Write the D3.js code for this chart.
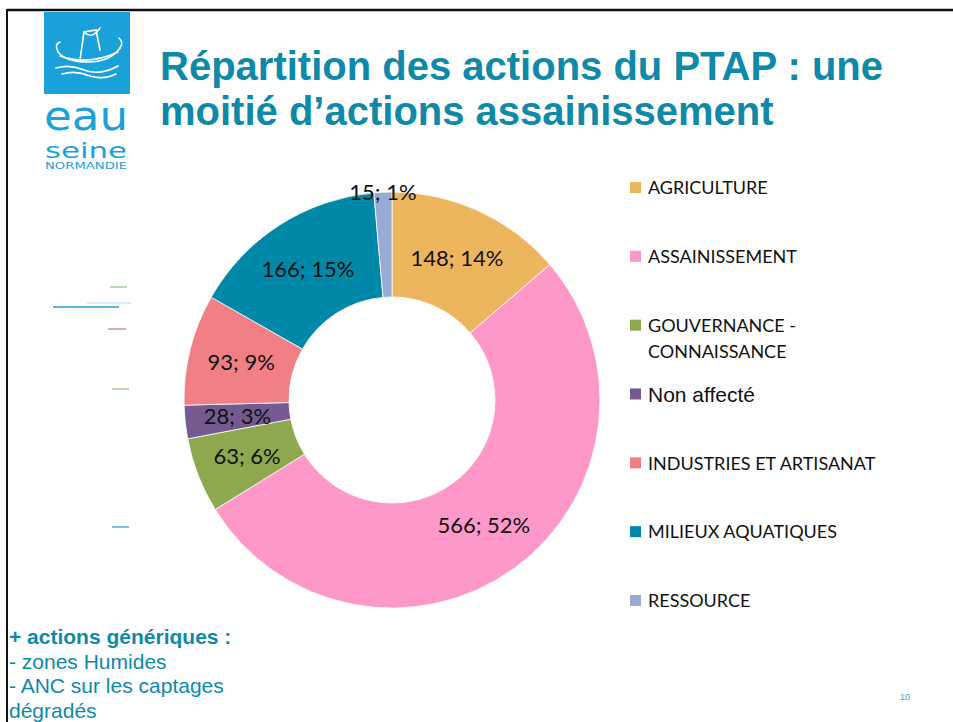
<!DOCTYPE html>
<html>
  <head>
    <meta charset="utf-8">
    <title>Répartition des actions du PTAP</title>
    <style>
      body, html{
        margin: 0;
        width: 953px;
        height: 722px;
        background: #fff;
        overflow: hidden;
      }
      svg{ display: block; }
    </style>
  </head>
  <body>
    <svg id="chart" width="953" height="722"></svg>
    <script src="https://cdnjs.cloudflare.com/ajax/libs/d3/7.8.5/d3.min.js" charset="utf-8"></script>
    <script>
      // data
      var categories = ['AGRICULTURE', 'ASSAINISSEMENT', 'GOUVERNANCE - CONNAISSANCE', 'Non affecté',
        'INDUSTRIES ET ARTISANAT', 'MILIEUX AQUATIQUES', 'RESSOURCE']
      var values = [148, 566, 63, 28, 93, 166, 15]
      var colors = ['#eeb55f', '#fe98c9', '#8ea84f', '#745a91', '#f27f85', '#0088a8', '#97abd3']
      var titleLines = ['Répartition des actions du PTAP : une', 'moitié d’actions assainissement']
      var noteLines = ['+ actions génériques :', '- zones Humides', '- ANC sur les captages', 'dégradés']

      var svg = d3.select('#chart')
      var teal = '#0e8aa8', logoBlue = '#1ba1d9'

      // slide frame
      svg.append('line').attr('x1', 7).attr('x2', 953).attr('y1', 10).attr('y2', 10)
        .attr('stroke', '#111').attr('stroke-width', 2.5)
      svg.append('line').attr('x1', 7).attr('x2', 7).attr('y1', 9).attr('y2', 722)
        .attr('stroke', '#111').attr('stroke-width', 2)

      // logo
      var logo = svg.append('g')
      logo.append('rect').attr('x', 44).attr('y', 12).attr('width', 86).attr('height', 82).attr('fill', logoBlue)
      var boat = logo.append('g').attr('fill', 'none').attr('stroke', '#fff').attr('stroke-width', 1.6)
        .attr('stroke-linecap', 'round')
      boat.append('path').attr('d', 'M58,52 Q66,62 88,62 Q110,62 120,48')
      boat.append('path').attr('d', 'M60,56 Q88,66 118,52')
      boat.append('path').attr('d', 'M80,60 L84,32 L96,30 L100,50')
      boat.append('path').attr('d', 'M84,32 Q92,40 100,28')
      boat.append('path').attr('d', 'M56,68 Q70,64 84,70 Q100,76 118,66')
      boat.append('path').attr('d', 'M62,74 Q76,70 90,76 Q104,80 116,74')
      boat.append('path').attr('d', 'M58,52 q-4,-8 2,-10')
      boat.append('path').attr('d', 'M120,48 q4,-6 -1,-10')
      logo.append('text').attr('x', 86).attr('y', 130).attr('text-anchor', 'middle')
        .attr('font-family', 'DejaVu Sans, sans-serif').attr('font-size', 40).attr('fill', logoBlue)
        .attr('textLength', 84).attr('lengthAdjust', 'spacingAndGlyphs').text('eau')
      logo.append('text').attr('x', 86).attr('y', 158).attr('text-anchor', 'middle')
        .attr('font-family', 'DejaVu Sans, sans-serif').attr('font-size', 22).attr('fill', logoBlue)
        .attr('textLength', 82).attr('lengthAdjust', 'spacingAndGlyphs').text('seine')
      logo.append('text').attr('x', 86).attr('y', 169).attr('text-anchor', 'middle')
        .attr('font-family', 'DejaVu Sans, sans-serif').attr('font-size', 8).attr('fill', logoBlue)
        .attr('textLength', 82).attr('lengthAdjust', 'spacingAndGlyphs').text('NORMANDIE')

      // title
      svg.append('g').selectAll('text').data(titleLines).enter().append('text')
        .attr('x', 160).attr('y', function(d, i){ return 80 + i * 45 })
        .attr('font-family', 'Liberation Sans, Arial, sans-serif').attr('font-weight', 'bold')
        .attr('font-size', 40).attr('fill', teal).text(function(d){ return d })

      // stray connector stubs left of the chart
      var stubs = [
        {x1: 110, x2: 127, y: 287, c: '#9cc48a'},
        {x1: 87, x2: 131, y: 303, c: '#cfe3f3'},
        {x1: 53, x2: 119, y: 307, c: '#2a9ad6'},
        {x1: 108, x2: 126, y: 329, c: '#c08296'},
        {x1: 112, x2: 129, y: 389, c: '#9cc48a'},
        {x1: 112, x2: 129, y: 527, c: '#2aa3db'}
      ]
      svg.append('g').selectAll('line').data(stubs).enter().append('line')
        .attr('x1', function(d){ return d.x1 }).attr('x2', function(d){ return d.x2 })
        .attr('y1', function(d){ return d.y }).attr('y2', function(d){ return d.y })
        .attr('stroke', function(d){ return d.c }).attr('stroke-width', 1.3)

      // donut
      var cx = 392, cy = 400, outerR = 208, innerR = 103
      var total = d3.sum(values)
      var color = d3.scaleOrdinal().domain(categories).range(colors)
      var pie = d3.pie().sort(null).value(function(d){ return d.value })
      var arc = d3.arc().innerRadius(innerR).outerRadius(outerR)
      var labelArc = d3.arc().innerRadius((innerR + outerR) / 2).outerRadius((innerR + outerR) / 2)
      var edgeArc = d3.arc().innerRadius(outerR).outerRadius(outerR)
      var rows = categories.map(function(c, i){ return {cat: c, value: values[i]} })
      var arcs = pie(rows)

      var g = svg.append('g').attr('transform', 'translate(' + cx + ',' + cy + ')')
      g.selectAll('path').data(arcs).enter().append('path')
        .attr('d', arc).attr('fill', function(d){ return color(d.data.cat) })
        .attr('stroke', '#fff').attr('stroke-width', 0.8)

      g.selectAll('text').data(arcs).enter().append('text')
        .attr('transform', function(d){
          var p = d.data.value / total < 0.02 ? edgeArc.centroid(d) : labelArc.centroid(d)
          return 'translate(' + p + ')'
        })
        .attr('text-anchor', 'middle').attr('dy', '0.35em')
        .attr('font-family', 'Lato, Open Sans, sans-serif').attr('font-size', 22).attr('fill', '#111')
        .text(function(d){ return d.data.value + '; ' + Math.round(d.data.value / total * 100) + '%' })

      // legend
      var legendY = d3.scalePoint().domain(categories).range([188, 601])
      var legend = svg.append('g').selectAll('g').data(categories).enter().append('g')
        .attr('transform', function(d){ return 'translate(630,' + legendY(d) + ')' })
      legend.append('rect').attr('x', 0).attr('y', -6).attr('width', 11).attr('height', 11)
        .attr('fill', function(d){ return color(d) })
      legend.each(function(d){
        var sel = d3.select(this)
        var arial = d === 'Non affecté'
        var t = sel.append('text').attr('y', 0)
          .attr('font-family', arial ? 'Liberation Sans, Arial, sans-serif' : 'Lato, Open Sans, sans-serif')
          .attr('font-size', arial ? 21 : 18).attr('fill', '#111')
        var parts = d === 'GOUVERNANCE - CONNAISSANCE' ? ['GOUVERNANCE -', 'CONNAISSANCE'] : [d]
        parts.forEach(function(p, i){
          t.append('tspan').attr('x', 18).attr('dy', i === 0 ? '0.35em' : 26).text(p)
        })
      })

      // footnote
      svg.append('g').selectAll('text').data(noteLines).enter().append('text')
        .attr('x', 9).attr('y', function(d, i){ return 644 + i * 24.5 })
        .attr('font-family', 'Liberation Sans, Arial, sans-serif')
        .attr('font-weight', function(d, i){ return i === 0 ? 'bold' : 'normal' })
        .attr('font-size', 21).attr('fill', teal).text(function(d){ return d })

      // page number
      svg.append('text').attr('x', 905).attr('y', 700).attr('text-anchor', 'middle')
        .attr('font-family', 'Liberation Sans, Arial, sans-serif').attr('font-size', 9)
        .attr('fill', '#3aa6cf').text('10')
    </script>
  </body>
</html>
